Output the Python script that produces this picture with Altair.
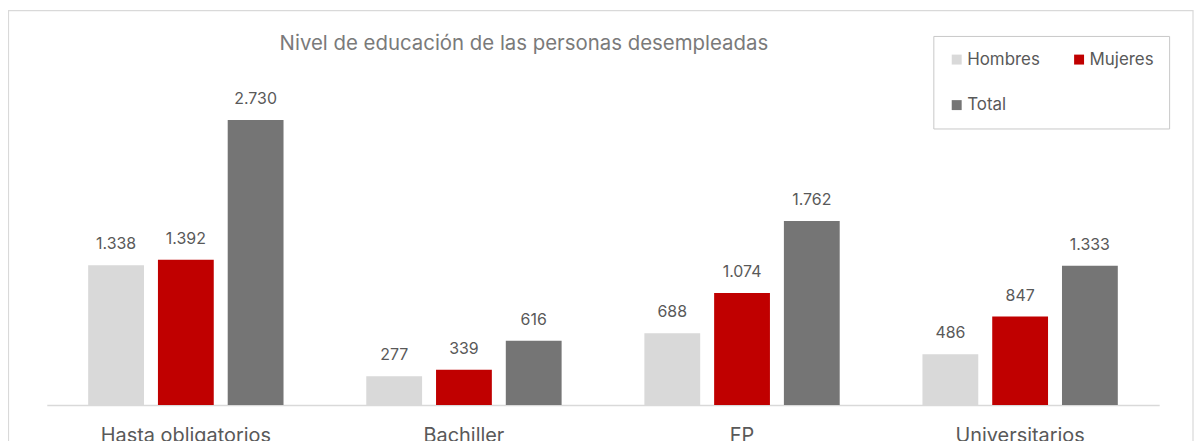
import altair as alt
import pandas as pd

title_text = "Nivel de educación de las personas desempleadas"
categories = ["Hasta obligatorios", "Bachiller", "FP", "Universitarios"]
series = ["Hombres", "Mujeres", "Total"]
hombres = [1338, 277, 688, 486]
mujeres = [1392, 339, 1074, 847]
total = [2730, 616, 1762, 1333]
colors = ["#d9d9d9", "#c00000", "#757575"]

rows = []
for i, c in enumerate(categories):
    for s, vals in zip(series, [hombres, mujeres, total]):
        v = vals[i]
        rows.append({"cat": c, "serie": s, "valor": v,
                     "etiqueta": f"{v:,}".replace(",", ".")})
df = pd.DataFrame(rows)

FONT = "Inter"

x = alt.X("cat:N", sort=categories, title=None,
          scale=alt.Scale(paddingInner=0, paddingOuter=0),
          axis=alt.Axis(labelAngle=0, ticks=False, labelFontSize=20,
                        labelColor="#595959", labelFont=FONT,
                        domainColor="#d9d9d9", domainWidth=1.5,
                        labelPadding=21, labelBaseline="top"))
xo = alt.XOffset("serie:N", sort=series,
                 scale=alt.Scale(paddingInner=0.2, paddingOuter=0.593))
y = alt.Y("valor:Q", scale=alt.Scale(domain=[0, 3000]), axis=None)

base = alt.Chart(df)

bars = base.mark_bar().encode(
    x=x, xOffset=xo, y=y,
    color=alt.Color("serie:N", sort=series,
                    scale=alt.Scale(domain=series, range=colors),
                    legend=alt.Legend(title=None, orient="none",
                                      direction="horizontal",
                                      legendX=891, legendY=-56,
                                      columns=2, columnPadding=30,
                                      rowPadding=28, padding=15,
                                      fillColor="white", strokeColor="#c8c8c8",
                                      symbolType="square", symbolSize=100,
                                      symbolStrokeWidth=0,
                                      labelFontSize=17, labelColor="#595959",
                                      labelFont=FONT, labelOffset=2)),
)

labels = base.mark_text(fontSize=16, color="#595959", font=FONT,
                        baseline="alphabetic", dy=-16).encode(
    x=x, xOffset=xo, y=y, text="etiqueta:N")

frame = alt.Chart(pd.DataFrame({"a": [0]})).mark_rect(
    fill=None, stroke="#d9d9d9", strokeWidth=1.2, clip=False).encode(
    x=alt.value(-38.5), x2=alt.value(1152), y=alt.value(-81.5), y2=alt.value(360))

title = alt.Chart(pd.DataFrame({"t": [title_text]})).mark_text(
    fontSize=20.5, color="#7a7a7a", font=FONT, align="center",
    baseline="middle").encode(
    text="t:N", x=alt.value(479.5), y=alt.value(-47.5))

chart = alt.layer(frame, title, bars, labels).properties(
    width=1118, height=315,
    autosize=alt.AutoSizeParams(type="none"),
    padding={"left": 39, "top": 83, "right": 35, "bottom": 35},
).configure_view(stroke=None)

chart.save("out.html", embed_options={"renderer": "svg", "actions": False})
